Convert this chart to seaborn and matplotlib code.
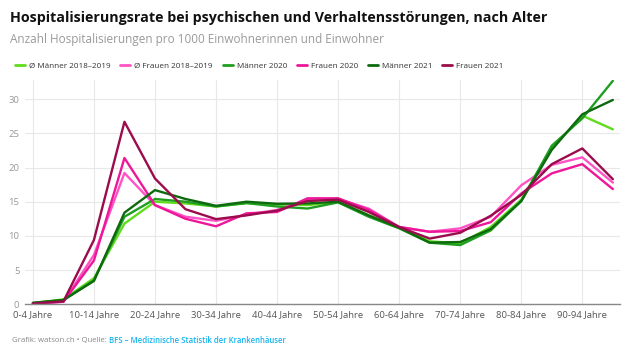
import numpy as np
import pandas as pd
import matplotlib.pyplot as plt
import seaborn as sns

ages = ['0-4 Jahre', '5-9 Jahre', '10-14 Jahre', '15-19 Jahre', '20-24 Jahre',
        '25-29 Jahre', '30-34 Jahre', '35-39 Jahre', '40-44 Jahre', '45-49 Jahre',
        '50-54 Jahre', '55-59 Jahre', '60-64 Jahre', '65-69 Jahre', '70-74 Jahre',
        '75-79 Jahre', '80-84 Jahre', '85-89 Jahre', '90-94 Jahre', '95+ Jahre']

maenner_1819 = [0.15, 0.7, 3.8, 11.8, 15.0, 14.75, 14.3, 14.8, 14.6, 14.5,
                15.0, 13.0, 11.2, 9.2, 8.9, 11.3, 15.3, 22.8, 27.6, 25.6]
frauen_1819 = [0.1, 0.35, 7.2, 19.2, 14.5, 12.8, 12.2, 13.1, 13.8, 15.3,
               15.4, 14.0, 11.3, 10.6, 11.1, 12.8, 17.4, 20.4, 21.5, 17.8]
maenner_2020 = [0.15, 0.6, 3.5, 12.8, 15.4, 15.0, 14.3, 14.8, 14.3, 14.0,
                14.9, 12.8, 11.1, 9.0, 8.65, 10.8, 15.1, 23.2, 27.2, 32.7]
frauen_2020 = [0.1, 0.35, 6.4, 21.4, 14.5, 12.5, 11.4, 13.3, 13.5, 15.5,
               15.5, 13.8, 11.3, 10.6, 10.7, 12.0, 16.2, 19.15, 20.5, 16.85]
maenner_2021 = [0.2, 0.6, 3.4, 13.4, 16.7, 15.4, 14.4, 15.0, 14.7, 14.75,
                15.0, 13.0, 11.2, 9.0, 9.1, 11.0, 15.1, 22.6, 27.8, 29.9]
frauen_2021 = [0.1, 0.4, 9.4, 26.7, 18.4, 13.9, 12.45, 13.0, 13.7, 15.1,
               15.3, 13.5, 11.3, 9.6, 10.45, 12.95, 16.0, 20.5, 22.8, 18.3]

series = {
    'Ø Männer 2018–2019': maenner_1819,
    'Ø Frauen 2018–2019': frauen_1819,
    'Männer 2020': maenner_2020,
    'Frauen 2020': frauen_2020,
    'Männer 2021': maenner_2021,
    'Frauen 2021': frauen_2021,
}
colors = ['#5fdc1c', '#ff52c4', '#1f9e1f', '#ee1699', '#0e6a0e', '#9a0c4c']

rows = []
for name, vals in series.items():
    for i, v in enumerate(vals):
        rows.append({'pos': i, 'Rate': v, 'Gruppe': name})
df = pd.DataFrame(rows)

sns.set_style('white')
plt.rcParams['font.family'] = ['Open Sans', 'DejaVu Sans']

fig = plt.figure(figsize=(6.4, 3.5), dpi=100)
ax = fig.add_axes([0.039, 0.131, 0.930, 0.640])

sns.lineplot(data=df, x='pos', y='Rate', hue='Gruppe', palette=colors,
             linewidth=1.7, ax=ax, legend=False)

ax.set_xlim(-0.26, 19.24)
ax.set_ylim(0, 32.8)
ax.set_xticks(range(0, 20, 2))
ax.set_xticklabels(ages[::2], fontsize=6.8, color='#555555')
ax.set_yticks(range(0, 31, 5))
ax.set_yticklabels([str(v) for v in range(0, 31, 5)], fontsize=6.8, color='#999999')
ax.tick_params(axis='both', length=0, pad=4)
ax.grid(True, color='#e8e8e8', linewidth=0.8)
ax.set_axisbelow(True)
ax.set_xlabel('')
ax.set_ylabel('')
for s in ['top', 'right', 'left']:
    ax.spines[s].set_visible(False)
ax.spines['bottom'].set_color('#888888')
ax.spines['bottom'].set_linewidth(1.0)

handles = [plt.Line2D([], [], color=c, linewidth=2) for c in colors]
fig.legend(handles, list(series.keys()), loc='center left',
           bbox_to_anchor=(0.012, 0.811), ncol=6, frameon=False,
           fontsize=5.9, handlelength=1.2, handletextpad=0.5,
           columnspacing=1.2, labelcolor='#333333')

fig.text(0.016, 0.948, 'Hospitalisierungsrate bei psychischen und Verhaltensstörungen, nach Alter',
         fontsize=10.25, fontweight='bold', color='#111111', va='center')
fig.text(0.016, 0.888, 'Anzahl Hospitalisierungen pro 1000 Einwohnerinnen und Einwohner',
         fontsize=8.5, color='#9a9a9a', va='center')

# footer: grey part, then the blue source right after it
t1 = fig.text(0.019, 0.028, 'Grafik: watson.ch • Quelle: ', fontsize=5.6,
              color='#888888', va='center')
fig.canvas.draw()
bb = t1.get_window_extent(renderer=fig.canvas.get_renderer())
x_end = bb.x1 / fig.bbox.width
fig.text(x_end, 0.028, 'BFS – Medizinische Statistik der Krankenhäuser', fontsize=5.6,
         color='#16b4ee', va='center', fontweight='semibold')

fig.savefig('out.png', dpi=100)
